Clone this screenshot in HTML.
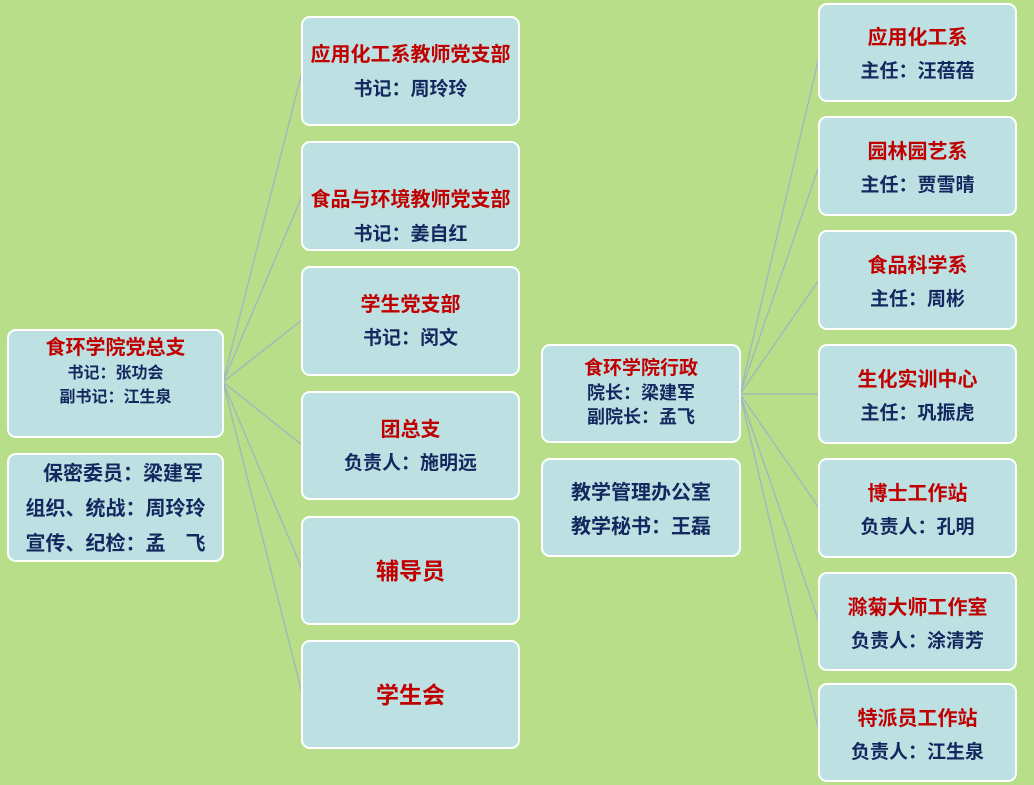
<!DOCTYPE html>
<html><head><meta charset="utf-8"><style>
body{margin:0;width:1034px;height:785px;background:#b8de8a;position:relative;overflow:hidden;font-family:"Liberation Sans","Noto Sans CJK SC",sans-serif;font-weight:bold}
.b{position:absolute;background:#bde0e3;border:2px solid #fff;border-radius:9px;box-sizing:border-box;text-align:center;color:#13285e}
.r{color:#c00000}
.b div{position:absolute;left:0;right:0;white-space:nowrap;line-height:1.2;margin-top:3px}
svg{position:absolute;left:0;top:0}
</style></head><body>
<svg width="1034" height="785"><g stroke="#9fb6c0" stroke-width="1.3" fill="none">
<line x1="223" y1="382" x2="302" y2="72"/><line x1="223" y1="382" x2="302" y2="196"/><line x1="223" y1="382" x2="302" y2="320"/><line x1="223" y1="382" x2="302" y2="445"/><line x1="223" y1="382" x2="302" y2="569"/><line x1="223" y1="382" x2="302" y2="693"/>
<line x1="740" y1="394" x2="819" y2="57"/><line x1="740" y1="394" x2="819" y2="166"/><line x1="740" y1="394" x2="819" y2="280"/><line x1="740" y1="394" x2="819" y2="394"/><line x1="740" y1="394" x2="819" y2="508"/><line x1="740" y1="394" x2="819" y2="622"/><line x1="740" y1="394" x2="819" y2="731"/>
</g></svg>

<div class="b" style="left:7px;top:329px;width:217px;height:109px">
<div class="r" style="top:2px;font-size:20px">食环学院党总支</div>
<div style="top:30px;font-size:16px">书记：张功会</div>
<div style="top:54px;font-size:16px">副书记：江生泉</div></div>
<div class="b" style="left:7px;top:453px;width:217px;height:109px;font-size:20px">
<div style="top:4px;left:34px;text-align:left">保密委员：梁建军</div>
<div style="top:39px">组织、统战：周玲玲</div>
<div style="top:74px">宣传、纪检：孟　飞</div></div>

<div class="b" style="left:301px;top:16px;width:219px;height:110px"><div class="r" style="top:22px;font-size:20px">应用化工系教师党支部</div><div style="top:58px;font-size:19px">书记：周玲玲</div></div>
<div class="b" style="left:301px;top:141px;width:219px;height:110px"><div class="r" style="top:42px;font-size:20px">食品与环境教师党支部</div><div style="top:78px;font-size:19px">书记：姜自红</div></div>
<div class="b" style="left:301px;top:266px;width:219px;height:110px"><div class="r" style="top:22px;font-size:20px">学生党支部</div><div style="top:57px;font-size:19px">书记：闵文</div></div>
<div class="b" style="left:301px;top:391px;width:219px;height:109px"><div class="r" style="top:22px;font-size:20px">团总支</div><div style="top:57px;font-size:19px">负责人：施明远</div></div>
<div class="b" style="left:301px;top:516px;width:219px;height:109px"><div class="r" style="top:37px;font-size:23px">辅导员</div></div>
<div class="b" style="left:301px;top:640px;width:219px;height:109px"><div class="r" style="top:37px;font-size:23px">学生会</div></div>

<div class="b" style="left:541px;top:344px;width:200px;height:99px"><div class="r" style="top:9px;font-size:19px">食环学院行政</div><div style="top:34px;font-size:18px">院长：梁建军</div><div style="top:58px;font-size:18px">副院长：孟飞</div></div>
<div class="b" style="left:541px;top:458px;width:200px;height:99px"><div style="top:18px;font-size:20px">教学管理办公室</div><div style="top:52px;font-size:20px">教学秘书：王磊</div></div>

<div class="b" style="left:818px;top:3px;width:199px;height:99px"><div class="r" style="top:18px;font-size:20px">应用化工系</div><div style="top:53px;font-size:19px">主任：汪蓓蓓</div></div>
<div class="b" style="left:818px;top:116px;width:199px;height:100px"><div class="r" style="top:19px;font-size:20px">园林园艺系</div><div style="top:54px;font-size:19px">主任：贾雪晴</div></div>
<div class="b" style="left:818px;top:230px;width:199px;height:100px"><div class="r" style="top:19px;font-size:20px">食品科学系</div><div style="top:54px;font-size:19px">主任：周彬</div></div>
<div class="b" style="left:818px;top:344px;width:199px;height:100px"><div class="r" style="top:19px;font-size:20px">生化实训中心</div><div style="top:54px;font-size:19px">主任：巩振虎</div></div>
<div class="b" style="left:818px;top:458px;width:199px;height:100px"><div class="r" style="top:19px;font-size:20px">博士工作站</div><div style="top:54px;font-size:19px">负责人：孔明</div></div>
<div class="b" style="left:818px;top:572px;width:199px;height:99px"><div class="r" style="top:19px;font-size:20px">滁菊大师工作室</div><div style="top:54px;font-size:19px">负责人：涂清芳</div></div>
<div class="b" style="left:818px;top:683px;width:199px;height:99px"><div class="r" style="top:19px;font-size:20px">特派员工作站</div><div style="top:54px;font-size:19px">负责人：江生泉</div></div>
</body></html>
